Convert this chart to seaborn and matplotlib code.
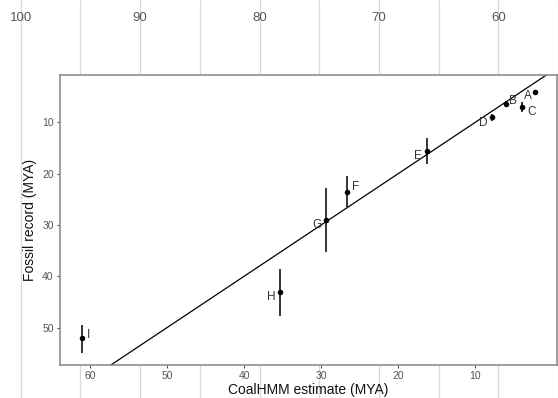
import matplotlib
matplotlib.use("Agg")
import matplotlib.pyplot as plt
import seaborn as sns
import pandas as pd

# ---- data ----
labels = ["A", "B", "C", "D", "E", "F", "G", "H", "I"]
coalhmm = [2.3, 6.0, 3.9, 7.9, 16.3, 26.6, 29.4, 35.3, 61.0]
fossil = [4.1, 6.5, 7.0, 9.0, 15.6, 23.6, 29.0, 43.1, 52.1]
fossil_lo = [4.1, 5.9, 6.0, 8.3, 13.1, 20.5, 22.9, 38.6, 49.5]
fossil_hi = [4.1, 7.0, 7.9, 9.8, 18.1, 26.6, 35.2, 47.7, 55.0]
x_ticks = [60, 50, 40, 30, 20, 10]
y_ticks = [10, 20, 30, 40, 50]
top_major = [100, 90, 80, 70, 60]
top_minor = [95, 85, 75, 65, 55]
ref_intercept, ref_slope = 0.0, 1.0

df = pd.DataFrame({"label": labels, "coal": coalhmm, "fossil": fossil,
                   "lo": fossil_lo, "hi": fossil_hi})

# label placement (pixels, dx right, dy up)
label_offsets = {"A": (-7, -4), "B": (7, 3), "C": (9, -5), "D": (-8, -6),
                 "E": (-9, -5), "F": (8, 5), "G": (-9, -5), "H": (-9, -5),
                 "I": (6, 3)}

sns.set_theme(style="white")
plt.rcParams["font.family"] = ["Liberation Sans", "DejaVu Sans"]

W, H = 558, 398
fig = plt.figure(figsize=(W / 100, H / 100), dpi=100)

# ---- background axis (top scale with grid lines) ----
bg = fig.add_axes([0, 0, 1, 1], zorder=0)
bg.set_xlim(101.74, 55.44)
bg.set_ylim(0, 1)
bg.set_xticks(top_major)
bg.set_xticks(top_minor, minor=True)
bg.set_xticklabels([str(v) for v in top_major])
bg.xaxis.set_ticks_position("top")
bg.xaxis.set_label_position("top")
bg.tick_params(axis="x", which="both", length=0, pad=-17, labelsize=9.5,
               labelcolor="#555555", top=True, bottom=False,
               labeltop=True, labelbottom=False)
bg.set_yticks([])
bg.grid(True, which="both", axis="x", color="#d9d9d9", linewidth=0.9)
for s in bg.spines.values():
    s.set_visible(False)
bg.set_facecolor("white")

# ---- main panel ----
ax = fig.add_axes([60 / W, 1 - 365 / H, 497 / W, 290 / H], zorder=1)
ax.set_facecolor("white")

ax.vlines(df["coal"], df["lo"], df["hi"], color="black", linewidth=1.1, zorder=2)
ax.axline((0, ref_intercept), slope=ref_slope, color="black", linewidth=0.9, zorder=1)
sns.scatterplot(data=df, x="coal", y="fossil", ax=ax, color="black", s=16,
                edgecolor="black", linewidth=0, zorder=3, legend=False)

for _, r in df.iterrows():
    dx, dy = label_offsets[r["label"]]
    ax.annotate(r["label"], (r["coal"], r["fossil"]), xytext=(dx, dy),
                textcoords="offset pixels", ha="center", va="center",
                fontsize=8.5, color="#333333", zorder=4)

ax.set_xlim(63.9, -0.6)
ax.set_ylim(57.3, 0.78)
ax.set_xticks(x_ticks)
ax.set_yticks(y_ticks)
ax.tick_params(axis="both", which="major", length=2.5, width=0.8, color="#555555",
               labelsize=7.5, labelcolor="#555555", pad=2, bottom=True, left=True)
for s in ax.spines.values():
    s.set_color("#858585")
    s.set_linewidth(1.1)
ax.set_xlabel("CoalHMM estimate (MYA)", fontsize=10, color="#111111", labelpad=1)
ax.set_ylabel("Fossil record (MYA)", fontsize=10, color="#111111", labelpad=4)
ax.grid(False)

fig.savefig("out.png", dpi=100)
